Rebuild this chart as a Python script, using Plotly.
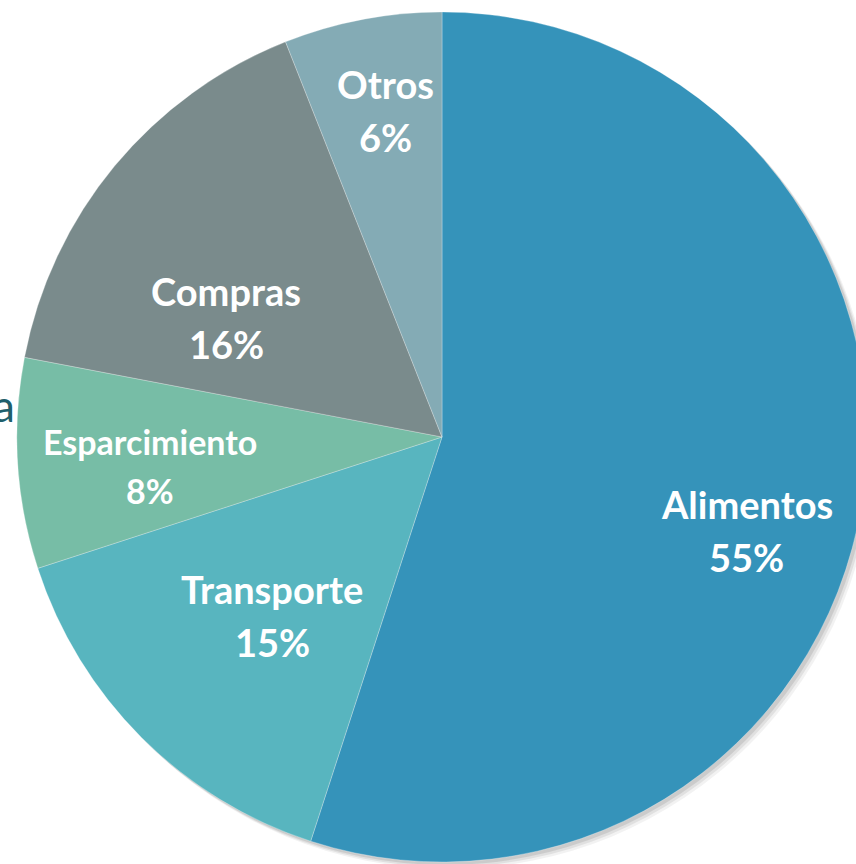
import math
import plotly.graph_objects as go

categories = ["Alimentos", "Transporte", "Esparcimiento", "Compras", "Otros"]
values = [55, 15, 8, 16, 6]
colors = ["#3593BA", "#58B5BF", "#77BDA6", "#7A8B8C", "#84ABB5"]

W, H = 884, 874
cx, cy, R = 442, 437, 425

# label placement (best-fit style): radius fraction, angular offset from bisector, font size, line gap
label_place = {
    "Alimentos": (0.75, 8.0, 38, 53),
    "Transporte": (0.58, -1.5, 38, 53),
    "Esparcimiento": (0.69, -2.0, 34, 49),
    "Compras": (0.58, -10.6, 38, 53),
    "Otros": (0.78, 1.0, 38, 53),
}


def dom(cx, cy, R):
    return dict(x=[(cx - R) / W, (cx + R) / W], y=[(H - cy - R) / H, (H - cy + R) / H])


fig = go.Figure()
# soft drop shadow
for off, a in [(7, 0.05), (5, 0.07), (3, 0.09)]:
    fig.add_trace(go.Pie(values=[1], labels=["s"], marker=dict(colors=[f"rgba(0,0,0,{a})"]),
                         textinfo="none", hoverinfo="skip", showlegend=False, sort=False,
                         domain=dom(cx + off, cy + off, R)))

fig.add_trace(go.Pie(
    labels=categories, values=values, sort=False, direction="clockwise", rotation=0,
    marker=dict(colors=colors, line=dict(color="rgba(255,255,255,0.35)", width=0.8)),
    textinfo="none", showlegend=False, domain=dom(cx, cy, R),
))

total = sum(values)
cum = 0
for cat, v in zip(categories, values):
    frac, dang, fsize, gap = label_place[cat]
    ang = math.radians((cum + v / 2) / total * 360 + dang)  # clockwise from 12 o'clock
    cum += v
    px = cx + frac * R * math.sin(ang)
    py = cy - frac * R * math.cos(ang)
    pct = f"{round(v / total * 100)}%"
    for txt, yy in [(cat, py - gap / 2), (pct, py + gap / 2)]:
        fig.add_annotation(text=f"<b>{txt}</b>", x=px / W, y=(H - yy) / H,
                           xref="paper", yref="paper", xanchor="center", yanchor="middle",
                           showarrow=False,
                           font=dict(family="Lato", size=fsize, color="white"))

fig.add_annotation(text="a", x=17 / W, y=(H - 405) / H, xref="paper", yref="paper",
                   xanchor="right", yanchor="middle", showarrow=False,
                   font=dict(family="Lato", size=44, color="#1F5F6B"))

fig.update_layout(width=W, height=H, margin=dict(l=0, r=0, t=0, b=0),
                  paper_bgcolor="white", plot_bgcolor="white")

fig.write_html("out.html", config={"displayModeBar": False},
               post_script="document.body.style.margin='0';document.body.style.overflow='hidden';document.documentElement.style.overflow='hidden';")
